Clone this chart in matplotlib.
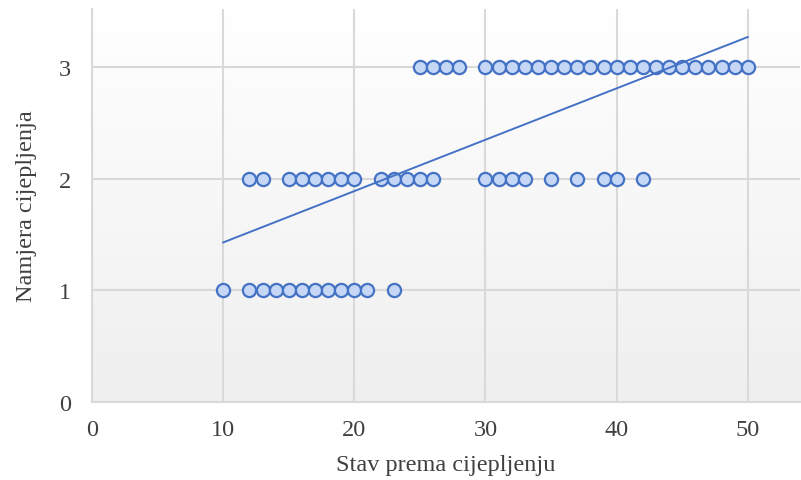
import numpy as np
import matplotlib.pyplot as plt

# points, by intention level
x_level1 = [10, 12, 13, 14, 15, 16, 17, 18, 19, 20, 21, 23]
x_level2 = [12, 13, 15, 16, 17, 18, 19, 20, 22, 23, 24, 25, 26,
            30, 31, 32, 33, 35, 37, 39, 40, 42]
x_level3 = [25, 26, 27, 28] + list(range(30, 51))

# linear trend
trend_slope = 0.046
trend_intercept = 0.97
trend_x = [10, 50]

x_ticks = [0, 10, 20, 30, 40, 50]
y_ticks = [0, 1, 2, 3]

plt.rcParams['font.family'] = ['Liberation Serif', 'DejaVu Serif']

fig = plt.figure(figsize=(8.01, 4.81), dpi=100)
ax = fig.add_axes([0.115, 0.162, 0.884, 0.817])

# soft vertical gradient behind the plot
grad = np.linspace(1.0, 0.0, 256).reshape(-1, 1)
ax.imshow(grad, cmap=plt.matplotlib.colors.LinearSegmentedColormap.from_list('bg', ['#efefef', '#ffffff']),
          extent=[0, 1, 0, 1], transform=ax.transAxes, aspect='auto', zorder=0)

ax.set_xlim(0, 54)
ax.set_ylim(0, 3.52)
ax.set_xticks(x_ticks)
ax.set_yticks(y_ticks)
ax.grid(True, color='#d9d9d9', linewidth=1.5, zorder=1)
ax.set_axisbelow(True)

for xs, level in [(x_level1, 1), (x_level2, 2), (x_level3, 3)]:
    ax.plot(xs, [level] * len(xs), 'o', markersize=9.5, markerfacecolor='#c5d7f5',
            markeredgecolor='#4472c4', markeredgewidth=1.6, zorder=3)

tx = np.array(trend_x)
ax.plot(tx, trend_slope * tx + trend_intercept, color='#4472c4', linewidth=1.4, zorder=4)

for side in ['top', 'right']:
    ax.spines[side].set_visible(False)
for side in ['left', 'bottom']:
    ax.spines[side].set_color('#d9d9d9')
    ax.spines[side].set_linewidth(1.5)

ax.tick_params(axis='x', length=0, labelsize=17.5, labelcolor='#404040', pad=12)
ax.tick_params(axis='y', length=0, labelsize=17.5, labelcolor='#404040', pad=15)
ax.set_xlabel('Stav prema cijepljenju', fontsize=17.5, color='#404040', labelpad=10)
ax.set_ylabel('Namjera cijepljenja', fontsize=17.5, color='#404040', labelpad=16)

fig.savefig('out.png', dpi=100)
